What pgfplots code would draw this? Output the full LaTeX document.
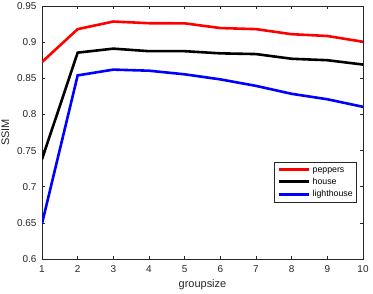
\documentclass[border=0pt]{standalone}
\usepackage{pgfplots}
\pgfplotsset{compat=1.18}
\usepackage{fontspec}
\setmainfont{Liberation Sans}
\definecolor{axgray}{rgb}{0.15,0.15,0.15}
\begin{document}
\begin{tikzpicture}
\begin{axis}[
  scale only axis, width=321bp, height=253bp,
  xmin=1, xmax=10, ymin=0.6, ymax=0.95,
  xtick={1,...,10},
  ytick={0.6,0.65,0.7,0.75,0.8,0.85,0.9,0.95},
  /pgf/number format/assume math mode=true,
  tick align=inside, tick pos=both,
  major tick length=3bp,
  axis line style={axgray, line width=0.5pt},
  every tick/.style={axgray, line width=0.5pt},
  tick label style={font=\fontsize{10}{11}\selectfont, text=axgray},
  xticklabel style={yshift=-3bp},
  yticklabel style={xshift=-2bp, /pgf/number format/.cd, fixed, precision=2},
  label style={font=\fontsize{11}{12}\selectfont, text=axgray},
  xlabel={groupsize}, ylabel={SSIM},
  xlabel style={yshift=0bp},
  ylabel style={yshift=1bp},
  legend style={at={(0.7227,0.3834)}, anchor=north west, draw=axgray,
    font=\fontsize{8.8}{9}\selectfont, inner xsep=3.5bp, inner ysep=3.5bp,
    nodes={inner sep=0pt, text height=6.4bp, text depth=1.8bp},
    row sep=4bp, column sep=2.6bp,
    legend cell align=left},
  legend image code/.code={\draw[#1, line width=3bp] (0bp,0bp) -- (29.4bp,0bp);},
]
\addplot[red, line width=2.6bp] coordinates {(1,0.8725)(2,0.918)(3,0.9285)(4,0.9262)(5,0.926)(6,0.9195)(7,0.918)(8,0.911)(9,0.9085)(10,0.9005)};
\addlegendentry{peppers}
\addplot[black, line width=2.6bp] coordinates {(1,0.738)(2,0.8855)(3,0.891)(4,0.8875)(5,0.8875)(6,0.8845)(7,0.8835)(8,0.877)(9,0.875)(10,0.869)};
\addlegendentry{house}
\addplot[blue, line width=2.6bp] coordinates {(1,0.649)(2,0.854)(3,0.862)(4,0.8605)(5,0.8555)(6,0.8485)(7,0.8395)(8,0.8285)(9,0.821)(10,0.8105)};
\addlegendentry{lighthouse\hspace{1.5bp}}
\end{axis}
\pgfresetboundingbox
\path (current axis.south west) ++(-42bp,-35bp) rectangle ([xshift=10bp,yshift=6bp]current axis.north east);
\end{tikzpicture}
\end{document}
